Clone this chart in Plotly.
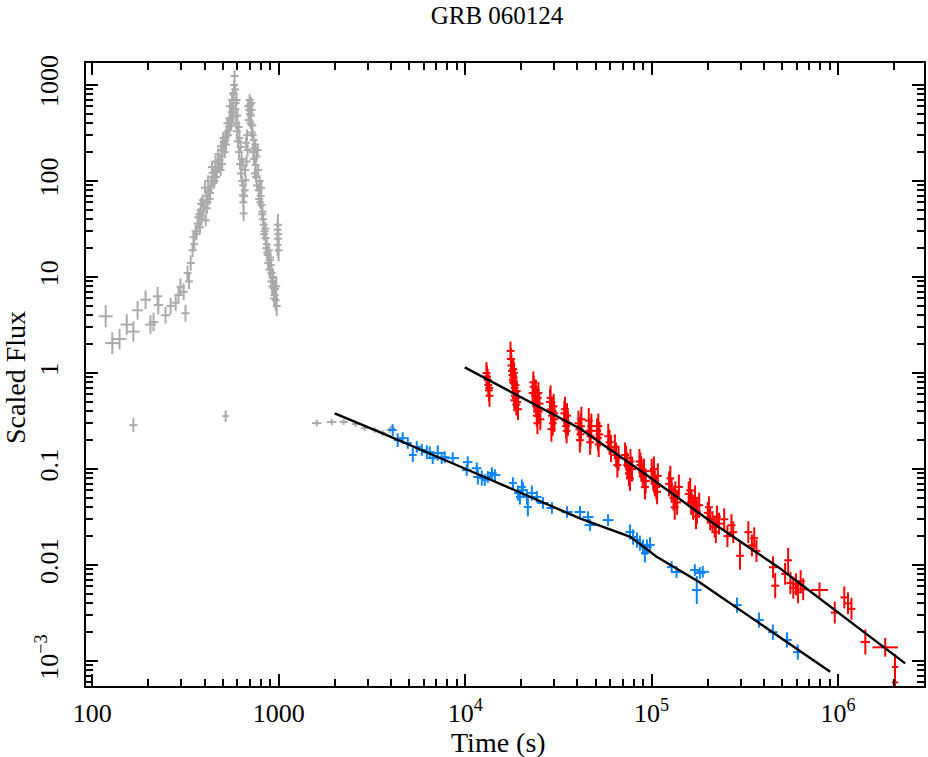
import math
import plotly.graph_objects as go

# ---------------- data ----------------
# Gray: early light curve (s, scaled flux)
gray_t = [118, 128, 140, 153, 166, 166, 175, 193, 205, 213, 224, 226, 247, 263, 280, 290, 297, 309, 316, 324,
          330, 337, 345, 349, 358, 367, 375, 381, 386, 391, 398, 406, 410, 415, 421, 428, 435, 442, 447, 455,
          462, 470, 478, 488, 494, 500, 508, 514, 519, 519, 526, 538, 545, 552, 559, 566, 570, 573, 576, 580,
          584, 588, 594, 600, 609, 616, 624, 632, 640, 640, 644, 648, 656, 664, 672, 681, 689, 694, 698, 703,
          710, 716, 722, 733, 740, 752, 760, 771, 780, 790, 800, 809, 818, 830, 840, 851, 862, 872, 883, 895,
          906, 916, 927, 939, 950, 962, 970, 986, 986, 992, 998,
          352, 362, 370, 378, 384, 395, 402, 412, 418, 425, 432, 438, 445, 452, 458, 465, 473, 482, 490, 497,
          504, 512, 522, 530, 535, 542, 548, 555, 562, 568,
          586, 592, 597, 604, 612, 620, 628, 636, 646, 652,
          660, 668, 676, 685, 700, 706, 712, 718, 726, 730, 737, 745, 748, 756, 765, 775, 785, 795, 805, 814,
          824, 835, 846, 857, 868, 878, 890, 900, 912, 922, 933, 945, 956, 975, 990, 995,
          1598, 1923, 2229, 2588, 2891, 3273, 3614, 3936, 4036]
gray_f = [3.9, 2.05, 2.26, 3.2, 2.7, 0.287, 4.5, 5.8, 3.2, 3.4, 6.3, 5.1, 4.0, 5.0, 5.4, 6.5, 7.9, 7.0, 4.2, 11,
          9, 14, 19, 26, 30, 36, 45, 50, 40, 63, 55, 39, 70, 60, 80, 75, 100, 121, 95, 130,
          110, 154, 140, 130, 180, 210, 250, 200, 287, 0.356, 320, 340, 450, 431, 520, 590, 800, 826, 1000, 1240,
          900, 650, 698, 480, 365, 280, 226, 170, 147, 71, 90, 46, 80, 102, 160, 210, 431, 550, 698, 620,
          480, 550, 380, 267, 220, 147, 180, 210, 80, 100, 70, 56, 48, 35, 30, 25.5, 22, 17, 19, 15,
          13.3, 11, 9.8, 7.7, 6.5, 5.75, 8, 31, 21.5, 25, 19,
          22, 28, 42, 33, 58, 48, 85, 52, 100, 65, 88, 140, 110, 100, 160, 125, 190, 165, 230, 150,
          280, 260, 240, 400, 300, 370, 600, 380, 700, 460,
          560, 400, 330, 260, 200, 150, 120, 100, 60, 70,
          130, 250, 300, 600, 500, 400, 650, 320, 300, 200, 170, 120, 240, 110, 90, 130, 65, 60, 85, 45,
          40, 28, 32, 20, 18, 14, 12, 16, 9, 8, 10, 6, 7.5, 5, 35, 28,
          0.301, 0.309, 0.309, 0.294, 0.267, 0.255, 0.237, 0.255, 0.267]
gray_te = ([0.09, 0.09, 0.09, 0.08, 0.08, 0.05, 0.07, 0.07, 0.07, 0.06, 0.06, 0.06, 0.06, 0.05, 0.05, 0.05, 0.05, 0.05, 0.05, 0.05,
            0.05, 0.05, 0.05, 0.05, 0.05, 0.05, 0.05, 0.05, 0.05, 0.05, 0.05, 0.05, 0.05, 0.05, 0.05, 0.05, 0.05, 0.05, 0.05, 0.05,
            0.05, 0.05, 0.05, 0.05, 0.05, 0.05, 0.05, 0.05, 0.05, 0.04, 0.05, 0.05, 0.05, 0.05, 0.05, 0.05, 0.05, 0.05, 0.05, 0.05,
            0.05, 0.05, 0.05, 0.05, 0.05, 0.05, 0.05, 0.05, 0.05, 0.05, 0.05, 0.05, 0.05, 0.05, 0.05, 0.05, 0.05, 0.05, 0.05, 0.05,
            0.05, 0.05, 0.05, 0.05, 0.05, 0.05, 0.05, 0.05, 0.05, 0.05, 0.05, 0.05, 0.05, 0.05, 0.05, 0.05, 0.05, 0.05, 0.05, 0.05,
            0.05, 0.05, 0.05, 0.05, 0.05, 0.05, 0.05, 0.05, 0.05, 0.05, 0.05,
            0.05, 0.05, 0.05, 0.05, 0.05, 0.05, 0.05, 0.05, 0.05, 0.05, 0.05, 0.05, 0.05, 0.05, 0.05, 0.05, 0.05, 0.05, 0.05, 0.05,
            0.05, 0.05, 0.05, 0.05, 0.05, 0.05, 0.05, 0.05, 0.05, 0.05,
            0.05, 0.05, 0.05, 0.05, 0.05, 0.05, 0.05, 0.05, 0.05, 0.05,
            0.05, 0.05, 0.05, 0.05, 0.05, 0.05, 0.05, 0.05, 0.05, 0.05, 0.05, 0.05, 0.05, 0.05, 0.05, 0.05, 0.05, 0.05, 0.05, 0.05,
            0.05, 0.05, 0.05, 0.05, 0.05, 0.05, 0.05, 0.05, 0.05, 0.05, 0.05, 0.05, 0.05, 0.05, 0.05, 0.05,
            0.06, 0.06, 0.05, 0.05, 0.05, 0.04, 0.04, 0.04, 0.04])
gray_fe = ([0.3, 0.3, 0.28, 0.28, 0.28, 0.18, 0.25, 0.25, 0.25, 0.25, 0.25, 0.25, 0.22, 0.22, 0.22, 0.22, 0.22, 0.22, 0.22, 0.2,
            0.2, 0.2, 0.18, 0.16, 0.16, 0.16, 0.16, 0.16, 0.16, 0.16, 0.16, 0.16, 0.15, 0.15, 0.15, 0.15, 0.15, 0.15, 0.15, 0.15,
            0.15, 0.15, 0.15, 0.15, 0.15, 0.15, 0.15, 0.15, 0.15, 0.15, 0.15, 0.15, 0.15, 0.15, 0.15, 0.15, 0.15, 0.15, 0.15, 0.15,
            0.15, 0.15, 0.15, 0.15, 0.15, 0.15, 0.15, 0.15, 0.15, 0.16, 0.15, 0.2, 0.15, 0.15, 0.15, 0.15, 0.15, 0.15, 0.15, 0.15,
            0.15, 0.15, 0.15, 0.15, 0.15, 0.15, 0.15, 0.15, 0.15, 0.15, 0.15, 0.15, 0.15, 0.16, 0.16, 0.16, 0.16, 0.16, 0.16, 0.16,
            0.17, 0.17, 0.2, 0.2, 0.22, 0.3, 0.25, 0.3, 0.3, 0.3, 0.3,
            0.16, 0.16, 0.16, 0.16, 0.16, 0.16, 0.15, 0.15, 0.15, 0.15, 0.15, 0.15, 0.15, 0.15, 0.15, 0.15, 0.15, 0.15, 0.15, 0.15,
            0.15, 0.15, 0.15, 0.15, 0.15, 0.15, 0.15, 0.15, 0.15, 0.15,
            0.15, 0.15, 0.15, 0.15, 0.15, 0.15, 0.15, 0.15, 0.16, 0.16,
            0.15, 0.15, 0.15, 0.15, 0.15, 0.15, 0.15, 0.15, 0.15, 0.15, 0.15, 0.15, 0.15, 0.15, 0.15, 0.15, 0.16, 0.16, 0.16, 0.16,
            0.16, 0.17, 0.17, 0.17, 0.18, 0.18, 0.19, 0.19, 0.2, 0.2, 0.22, 0.24, 0.24, 0.27, 0.3, 0.3,
            0.08, 0.08, 0.07, 0.07, 0.07, 0.07, 0.07, 0.07, 0.07])

# Blue series
blue_t = [4084, 4345, 4624, 4920, 5236, 5500, 5852, 6227, 6457, 6698, 7127, 7482, 7766, 8574,
          10190, 10320, 11530, 11690, 12280, 12740, 13220, 13900, 14420,
          18030, 19180, 19650, 20140, 20400, 21430, 21680, 22780, 24250, 26120, 29190, 35160, 41300, 45600, 46700,
          58400, 76600, 79500, 83500, 86500, 89800, 92000, 94400, 98000,
          128000, 136000, 170500, 174600, 181300, 188000,
          287000, 377000, 447000, 532000, 608000]
blue_f = [0.255, 0.200, 0.210, 0.187, 0.140, 0.170, 0.158, 0.150, 0.150, 0.130, 0.147, 0.130, 0.133, 0.130,
          0.0977, 0.118, 0.102, 0.0826, 0.0806, 0.0768, 0.0826, 0.0908, 0.0866,
          0.0715, 0.0562, 0.0512, 0.065, 0.0604, 0.0512, 0.0402, 0.0562, 0.0512, 0.0443, 0.0393, 0.0357, 0.0357, 0.0316, 0.0261,
          0.0294, 0.0221, 0.0196, 0.0182, 0.0169, 0.0154, 0.0133, 0.0154, 0.0162,
          0.00953, 0.00845, 0.00887, 0.0055, 0.00826, 0.0085,
          0.00383, 0.00267, 0.0020, 0.00166, 0.00124]
blue_te = [0.05, 0.05, 0.05, 0.05, 0.05, 0.05, 0.06, 0.06, 0.06, 0.06, 0.08, 0.06, 0.06, 0.08,
           0.06, 0.06, 0.06, 0.06, 0.05, 0.05, 0.05, 0.06, 0.07,
           0.05, 0.05, 0.05, 0.05, 0.05, 0.05, 0.05, 0.06, 0.06, 0.07, 0.07, 0.07, 0.07, 0.07, 0.07,
           0.07, 0.06, 0.05, 0.05, 0.05, 0.05, 0.05, 0.06, 0.06,
           0.06, 0.06, 0.06, 0.06, 0.07, 0.08,
           0.06, 0.06, 0.06, 0.06, 0.06]
blue_fe = [0.15, 0.18, 0.15, 0.15, 0.18, 0.15, 0.15, 0.18, 0.15, 0.15, 0.2, 0.15, 0.15, 0.15,
           0.15, 0.15, 0.15, 0.2, 0.2, 0.15, 0.15, 0.15, 0.15,
           0.15, 0.2, 0.2, 0.2, 0.2, 0.2, 0.25, 0.2, 0.15, 0.15, 0.15, 0.15, 0.15, 0.15, 0.15,
           0.15, 0.2, 0.2, 0.2, 0.2, 0.2, 0.25, 0.2, 0.2,
           0.15, 0.15, 0.15, 0.4, 0.15, 0.15,
           0.2, 0.2, 0.2, 0.2, 0.2]

# Red series
red_t = [13000, 13200, 13300, 13400, 13500, 13100, 13450,
         17500, 17700, 17800, 17900, 18000, 18100, 18200, 18300, 18400, 18500, 18600, 18700, 18900, 19000, 19200,
         17600, 18050, 18250, 18450, 18800, 18350,
         23000, 23300, 23500, 23700, 24000, 24200, 24500, 24800, 25000, 25300, 23200, 23900, 24400, 24700,
         28500, 28900, 29200, 29500, 29800, 30100, 29000, 28700, 29400, 30000,
         34000, 34500, 34800, 35200, 35600, 34300, 35000,
         40500, 41000, 41500, 42000, 41200, 41800,
         46000, 46500, 47000, 47500, 46800,
         51000, 51500, 52000, 52500, 51800,
         58500, 59500, 60500,
         63500, 64500, 65500, 66500,
         72000, 74000, 75500, 77000, 78500, 73000, 76500,
         86000, 88000, 89500, 91000, 93000, 87000, 92000,
         100000, 102000, 104000, 106000, 108000, 103000, 107000,
         124000, 128000, 131000, 134000, 137000, 140000, 126000, 133000,
         158000, 163000, 167000, 171000, 175000, 180000, 161000, 173000,
         200000, 206000, 212000, 218000, 224000, 230000, 203000, 221000,
         245000, 255000, 268000, 274000,
         298000,
         330000, 345000, 355000, 365000,
         448000, 460000,
         520000, 540000, 555000, 575000, 595000, 610000, 630000, 650000,
         795000,
         960000,
         1080000, 1130000, 1180000,
         1400000,
         1790000,
         2020000, 2020000]
red_f = [1.0, 0.85, 0.75, 0.66, 0.58, 0.92, 0.7,
         1.7, 1.2, 1.05, 0.95, 0.85, 1.1, 0.9, 0.78, 0.7, 0.62, 0.75, 0.55, 0.65, 0.5, 0.42,
         1.4, 0.8, 1.0, 0.58, 0.47, 0.52,
         0.62, 0.72, 0.5, 0.58, 0.45, 0.36, 0.55, 0.4, 0.48, 0.33, 0.8, 0.66, 0.3, 0.62,
         0.5, 0.42, 0.36, 0.3, 0.45, 0.33, 0.26, 0.55, 0.4, 0.38,
         0.38, 0.32, 0.28, 0.36, 0.3, 0.42, 0.25,
         0.3, 0.26, 0.23, 0.33, 0.2, 0.28,
         0.32, 0.25, 0.22, 0.28, 0.19,
         0.25, 0.21, 0.18, 0.23, 0.28,
         0.22, 0.19, 0.16,
         0.17, 0.14, 0.11, 0.13,
         0.14, 0.11, 0.09, 0.12, 0.1, 0.13, 0.08,
         0.12, 0.1, 0.085, 0.095, 0.075, 0.11, 0.065,
         0.095, 0.08, 0.07, 0.065, 0.085, 0.1, 0.058,
         0.07, 0.06, 0.05, 0.055, 0.045, 0.065, 0.08, 0.04,
         0.055, 0.045, 0.04, 0.05, 0.036, 0.042, 0.06, 0.032,
         0.035, 0.03, 0.028, 0.025, 0.032, 0.027, 0.04, 0.022,
         0.03, 0.02, 0.026, 0.022,
         0.0125,
         0.022, 0.016, 0.019, 0.014,
         0.0095, 0.0061,
         0.0081, 0.0112, 0.0065, 0.0058, 0.0063, 0.0052, 0.0068, 0.0056,
         0.0055,
         0.0032,
         0.0046, 0.0040, 0.0035,
         0.00158,
         0.00139,
         0.00087, 0.00060]
red_te = [0.05, 0.05, 0.05, 0.05, 0.05, 0.05, 0.05,
          0.05, 0.05, 0.05, 0.05, 0.05, 0.05, 0.05, 0.05, 0.05, 0.05, 0.05, 0.05, 0.05, 0.05, 0.05,
          0.05, 0.05, 0.05, 0.05, 0.05, 0.05,
          0.05, 0.05, 0.05, 0.05, 0.05, 0.05, 0.05, 0.05, 0.05, 0.05, 0.05, 0.05, 0.05, 0.05,
          0.05, 0.05, 0.05, 0.05, 0.05, 0.05, 0.05, 0.05, 0.05, 0.05,
          0.05, 0.05, 0.05, 0.05, 0.05, 0.05, 0.05,
          0.05, 0.05, 0.05, 0.05, 0.05, 0.05,
          0.05, 0.05, 0.05, 0.05, 0.05,
          0.05, 0.05, 0.05, 0.05, 0.05,
          0.05, 0.05, 0.05,
          0.05, 0.05, 0.05, 0.05,
          0.05, 0.05, 0.05, 0.05, 0.05, 0.05, 0.05,
          0.05, 0.05, 0.05, 0.05, 0.05, 0.05, 0.05,
          0.05, 0.05, 0.05, 0.05, 0.05, 0.05, 0.05,
          0.05, 0.05, 0.05, 0.05, 0.05, 0.05, 0.05, 0.05,
          0.05, 0.05, 0.05, 0.05, 0.05, 0.05, 0.05, 0.05,
          0.05, 0.05, 0.05, 0.05, 0.05, 0.05, 0.05, 0.05,
          0.05, 0.05, 0.05, 0.05,
          0.05,
          0.05, 0.05, 0.05, 0.05,
          0.05, 0.05,
          0.05, 0.05, 0.05, 0.05, 0.05, 0.05, 0.05, 0.05,
          0.11,
          0.05,
          0.05, 0.05, 0.05,
          0.06,
          0.17,
          0.04, 0.04]
red_fe = [0.3, 0.3, 0.3, 0.3, 0.3, 0.3, 0.3,
          0.25, 0.3, 0.3, 0.3, 0.3, 0.3, 0.3, 0.3, 0.3, 0.3, 0.3, 0.3, 0.3, 0.3, 0.3,
          0.3, 0.3, 0.3, 0.3, 0.3, 0.3,
          0.3, 0.3, 0.3, 0.3, 0.3, 0.3, 0.3, 0.3, 0.3, 0.3, 0.3, 0.3, 0.3, 0.3,
          0.35, 0.35, 0.35, 0.35, 0.35, 0.35, 0.35, 0.35, 0.35, 0.35,
          0.35, 0.35, 0.35, 0.35, 0.35, 0.35, 0.35,
          0.35, 0.35, 0.35, 0.35, 0.35, 0.35,
          0.35, 0.35, 0.35, 0.35, 0.35,
          0.35, 0.35, 0.35, 0.35, 0.35,
          0.35, 0.35, 0.35,
          0.35, 0.35, 0.35, 0.35,
          0.35, 0.35, 0.35, 0.35, 0.35, 0.35, 0.35,
          0.35, 0.35, 0.35, 0.35, 0.35, 0.35, 0.35,
          0.35, 0.35, 0.35, 0.35, 0.35, 0.35, 0.35,
          0.35, 0.35, 0.35, 0.35, 0.35, 0.35, 0.35, 0.35,
          0.35, 0.35, 0.35, 0.35, 0.35, 0.35, 0.35, 0.35,
          0.3, 0.3, 0.3, 0.3, 0.3, 0.3, 0.3, 0.3,
          0.3, 0.3, 0.3, 0.3,
          0.4,
          0.3, 0.3, 0.3, 0.3,
          0.3, 0.35,
          0.3, 0.35, 0.3, 0.3, 0.3, 0.3, 0.3, 0.3,
          0.2,
          0.3,
          0.3, 0.3, 0.3,
          0.35,
          0.25,
          0.35, 0.8]

# Model curves (broken power laws)
blue_model_t = [1995, 3480, 10000, 41200, 76900, 106400, 179000, 907000]
blue_model_f = [0.38, 0.243, 0.1007, 0.0306, 0.0197, 0.0122, 0.0067, 0.000775]
red_model_t = [9950, 41200, 94000, 214000, 489000, 2290000]
red_model_f = [1.146, 0.265, 0.0866, 0.0272, 0.00922, 0.000946]

# Axes ticks
x_tick_vals = [100, 1000, 10000, 100000, 1000000]
x_tick_text = ["100", "1000", "10<sup>4</sup>", "10<sup>5</sup>", "10<sup>6</sup>"]
y_tick_vals = [0.001, 0.01, 0.1, 1, 10, 100, 1000]
y_tick_text = ["10<sup>\u22123</sup>", "0.01", "0.1", "1", "10", "100", "1000"]
x_range = [92.5, 2.89e6]
y_range = [5.5e-4, 1695]

for a, b in [(gray_t, gray_f), (gray_t, gray_te), (gray_t, gray_fe),
             (blue_t, blue_f), (blue_t, blue_te), (blue_t, blue_fe),
             (red_t, red_f), (red_t, red_te), (red_t, red_fe)]:
    assert len(a) == len(b), (len(a), len(b))


def err_trace(t, f, te, fe, color):
    return go.Scatter(
        x=t, y=f, mode="markers",
        marker=dict(size=0.1, color=color, opacity=0),
        error_x=dict(type="data", symmetric=False,
                     array=[ti * e for ti, e in zip(t, te)],
                     arrayminus=[ti * e / (1 + e) for ti, e in zip(t, te)],
                     color=color, thickness=2, width=0),
        error_y=dict(type="data", symmetric=False,
                     array=[fi * e for fi, e in zip(f, fe)],
                     arrayminus=[fi * e / (1 + e) for fi, e in zip(f, fe)],
                     color=color, thickness=2, width=0),
        hoverinfo="x+y", showlegend=False)


fig = go.Figure()
fig.add_trace(err_trace(gray_t, gray_f, gray_te, gray_fe, "#aaaaaa"))
fig.add_trace(err_trace(blue_t, blue_f, blue_te, blue_fe, "#0a84ff"))
fig.add_trace(err_trace(red_t, red_f, red_te, red_fe, "#ff0000"))
fig.add_trace(go.Scatter(x=blue_model_t, y=blue_model_f, mode="lines",
                         line=dict(color="black", width=2.4), showlegend=False))
fig.add_trace(go.Scatter(x=red_model_t, y=red_model_f, mode="lines",
                         line=dict(color="black", width=2.4), showlegend=False))
# invisible trace carrying the mirrored (top/right) axes
fig.add_trace(go.Scatter(x=x_range, y=y_range, mode="markers", xaxis="x2", yaxis="y2",
                         marker=dict(opacity=0, size=1), hoverinfo="skip", showlegend=False))


def minor_vals(lo_exp, hi_exp):
    return [m * 10 ** e for e in range(lo_exp, hi_exp + 1) for m in range(2, 10)]


font_family = "Liberation Serif"
xr = [math.log10(x_range[0]), math.log10(x_range[1])]
yr = [math.log10(y_range[0]), math.log10(y_range[1])]

common = dict(type="log", showline=True, linecolor="black", linewidth=2,
              showgrid=False, zeroline=False, automargin=False,
              ticks="inside", ticklen=12, tickwidth=2, tickcolor="black",
              tickmode="array")
minor_x = dict(ticks="inside", ticklen=7, tickwidth=2, tickcolor="black",
               tickmode="array", tickvals=minor_vals(1, 6), showgrid=False)
minor_y = dict(ticks="inside", ticklen=7, tickwidth=2, tickcolor="black",
               tickmode="array", tickvals=minor_vals(-4, 3), showgrid=False)

W, H = 928, 757
L, R, T, B = 86, 4, 63, 71
PW, PH = W - L - R, H - T - B

fig.update_layout(
    width=W, height=H,
    margin=dict(l=L, r=R, t=T, b=B),
    paper_bgcolor="white", plot_bgcolor="white",
    font=dict(family=font_family, size=26, color="black"),
    showlegend=False,
    title=dict(text="GRB 060124", x=497 / W, xref="container", xanchor="center",
               y=1 - 15 / H, yref="container", yanchor="middle",
               font=dict(family=font_family, size=25, color="black")),
    xaxis=dict(**common, range=xr, tickvals=x_tick_vals, ticktext=x_tick_text,
               tickfont=dict(family=font_family, size=26), ticklabelstandoff=3,
               minor=minor_x),
    yaxis=dict(**common, range=yr, tickvals=y_tick_vals, ticktext=y_tick_text, tickangle=-90,
               tickfont=dict(family=font_family, size=26), ticklabelstandoff=16,
               minor=minor_y),
    xaxis2=dict(**common, range=xr, tickvals=x_tick_vals, overlaying="x", side="top",
                anchor="y2", showticklabels=False, minor=minor_x),
    yaxis2=dict(**common, range=yr, tickvals=y_tick_vals, overlaying="y", side="right",
                anchor="x2", showticklabels=False, minor=minor_y),
    annotations=[
        dict(text="Time (s)", xref="paper", yref="paper", x=(498 - L) / PW, y=-(742 - (H - B)) / PH,
             xanchor="center", yanchor="middle", showarrow=False,
             font=dict(family=font_family, size=28, color="black")),
        dict(text="Scaled Flux", xref="paper", yref="paper", x=-(L - 15) / PW, y=(H - B - 378) / PH,
             xanchor="center", yanchor="middle", showarrow=False, textangle=-90,
             font=dict(family=font_family, size=28, color="black")),
    ],
)

fig.write_html("out.html", config={"displayModeBar": False},
               post_script="document.body.style.margin='0px';")
